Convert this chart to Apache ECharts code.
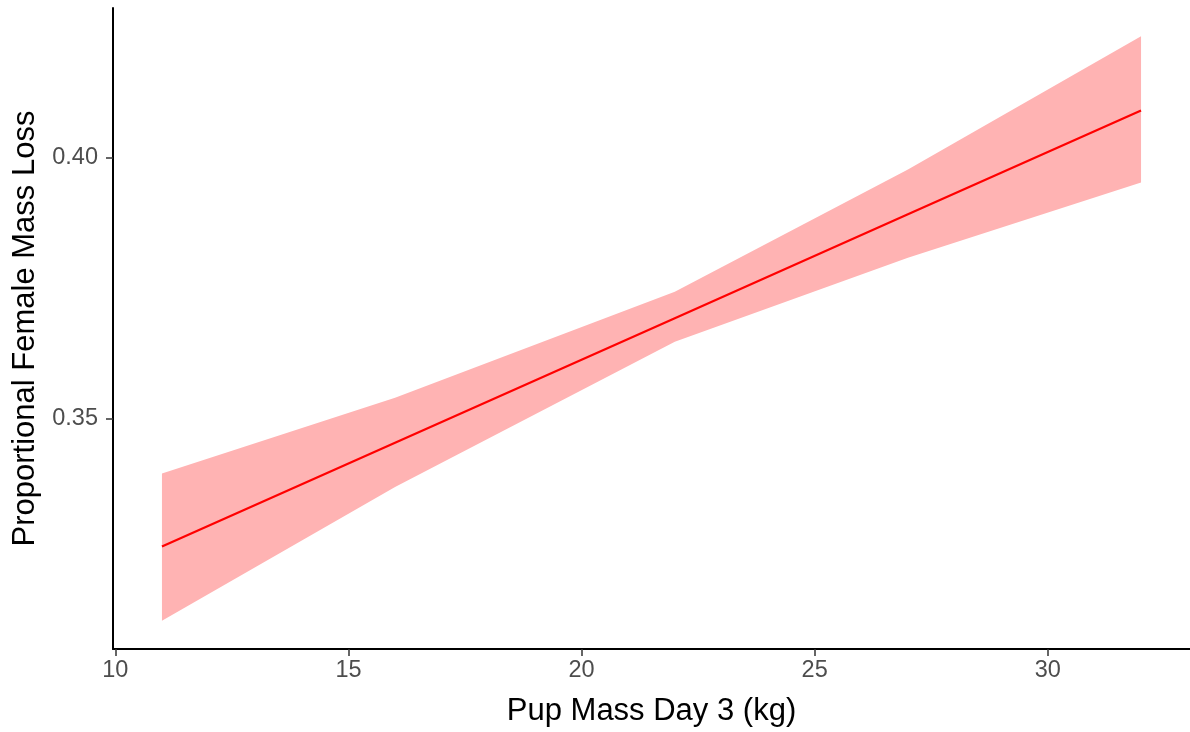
<!DOCTYPE html>
<html>
<head>
<meta charset="utf-8">
<script src="https://cdn.jsdelivr.net/npm/echarts@6/dist/echarts.min.js"></script>
<style>
html,body{margin:0;padding:0;background:#fff;}
#chart{width:1190px;height:732px;}
</style>
</head>
<body>
<div id="chart"></div>
<script>
// Data
const xValues = [11, 16, 22, 27, 32];
const fitValues = [0.3255, 0.3454, 0.3692, 0.3891, 0.4090];
const lowerValues = [0.3113, 0.3369, 0.3647, 0.3808, 0.3952];
const upperValues = [0.3395, 0.3540, 0.3743, 0.3977, 0.4232];
const xTicks = [10, 15, 20, 25, 30];
const yTicks = [0.35, 0.40];
const xRange = [9.95, 33.05];
const yRange = [0.3059, 0.4286];

const chart = echarts.init(document.getElementById('chart'));
const font = 'Liberation Sans, Arial, Helvetica, sans-serif';

const bandPoints = [];
for (let i = 0; i < xValues.length; i++) bandPoints.push([xValues[i], upperValues[i]]);
for (let i = xValues.length - 1; i >= 0; i--) bandPoints.push([xValues[i], lowerValues[i]]);

chart.setOption({
  animation: false,
  backgroundColor: '#fff',
  grid: {left: 113, right: 0, top: 8, bottom: 83, containLabel: false},
  xAxis: {
    type: 'value', min: xRange[0], max: xRange[1],
    name: 'Pup Mass Day 3 (kg)', nameLocation: 'middle', nameGap: 47,
    nameTextStyle: {fontFamily: font, fontSize: 31, color: '#000'},
    axisLine: {show: true, onZero: false, lineStyle: {color: '#000', width: 2}},
    axisTick: {show: true, length: 7, customValues: xTicks, lineStyle: {color: '#333', width: 1.5}},
    axisLabel: {customValues: xTicks, fontFamily: font, fontSize: 23.5, color: '#4d4d4d', margin: 10},
    splitLine: {show: false}
  },
  yAxis: {
    type: 'value', min: yRange[0], max: yRange[1],
    name: 'Proportional Female Mass Loss', nameLocation: 'middle', nameGap: 70,
    nameTextStyle: {fontFamily: font, fontSize: 31, color: '#000'},
    axisLine: {show: true, onZero: false, lineStyle: {color: '#000', width: 2}},
    axisTick: {show: true, length: 7, customValues: yTicks, lineStyle: {color: '#333', width: 1.5}},
    axisLabel: {customValues: yTicks, fontFamily: font, fontSize: 23.5, color: '#4d4d4d', margin: 15,
      formatter: v => v.toFixed(2)},
    splitLine: {show: false}
  },
  series: [
    {
      type: 'custom',
      silent: true,
      data: [0],
      renderItem: function (params, api) {
        const pts = bandPoints.map(p => api.coord(p));
        return {type: 'polygon', shape: {points: pts}, style: {fill: '#FFB3B3', stroke: null}};
      },
      z: 1
    },
    {
      type: 'line',
      data: xValues.map((x, i) => [x, fitValues[i]]),
      showSymbol: false,
      lineStyle: {color: '#FF0000', width: 2.2},
      z: 2
    }
  ]
});
</script>
</body>
</html>
